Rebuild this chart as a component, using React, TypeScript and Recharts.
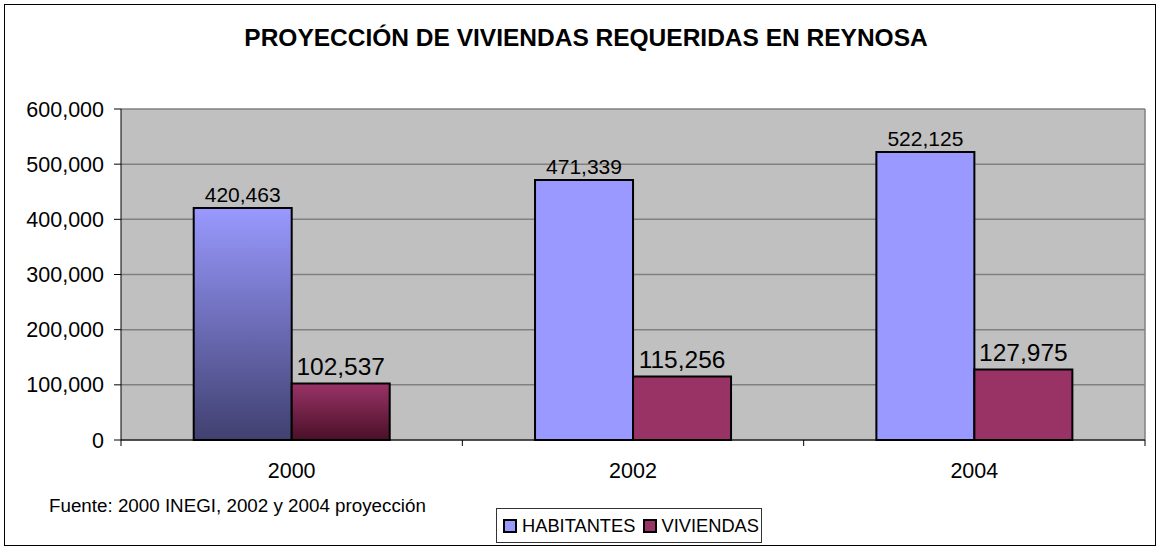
import React from 'react';
import { BarChart, Bar, XAxis, YAxis, CartesianGrid, Legend, LabelList, Cell } from 'recharts';

const years = ['2000', '2002', '2004'];
const habitantes = [420463, 471339, 522125];
const viviendas = [102537, 115256, 127975];
const yTicks = [0, 100000, 200000, 300000, 400000, 500000, 600000];

const data = years.map((year, i) => ({
  year,
  HABITANTES: habitantes[i],
  VIVIENDAS: viviendas[i],
}));

const FONT = '"Liberation Sans", Arial, sans-serif';
const fmt = (v: number) => Number(v).toLocaleString('en-US');

const W = 1150;
const H = 540;
// bottom margin is small because the legend's height gets added to it
const MARGIN = { top: 104, right: 10, left: 16, bottom: 30 };
const CAT_W = (W - MARGIN.left - 100 - MARGIN.right) / years.length;

const XTick = (props: any) => {
  const { x, y, payload, index } = props;
  const axisY = y - 23;
  return (
    <g>
      <line x1={x - CAT_W / 2} x2={x - CAT_W / 2} y1={axisY} y2={axisY + 6} stroke="#000" />
      {index === years.length - 1 && (
        <line x1={x + CAT_W / 2} x2={x + CAT_W / 2} y1={axisY} y2={axisY + 6} stroke="#000" />
      )}
      <text x={x} y={y} dy="0.71em" textAnchor="middle" fontSize={21.5} fontFamily={FONT} fill="#000">
        {payload.value}
      </text>
    </g>
  );
};

const LegendBox = () => (
  <div
    style={{
      display: 'flex',
      alignItems: 'center',
      border: '1px solid #333',
      background: '#fff',
      height: 33,
      padding: '0 2px 0 6px',
      fontFamily: FONT,
      fontSize: 18.3,
      color: '#000',
      whiteSpace: 'nowrap',
    }}
  >
    <span style={{ width: 10, height: 10, border: '2px solid #000', background: '#9999FF', marginRight: 5 }} />
    <span style={{ marginRight: 8 }}>HABITANTES</span>
    <span style={{ width: 10, height: 10, border: '2px solid #000', background: '#993366', marginRight: 4 }} />
    <span>VIVIENDAS</span>
  </div>
);

export default function App() {
  return (
    <div
      style={{
        position: 'absolute',
        left: 4,
        top: 4,
        width: W,
        height: H,
        border: '1px solid #000',
        background: '#fff',
        fontFamily: FONT,
      }}
    >
      <div
        style={{
          position: 'absolute',
          left: 0,
          top: 21,
          width: W,
          textAlign: 'center',
          fontSize: 24.5,
          lineHeight: 1,
          fontWeight: 'bold',
          color: '#000',
          paddingLeft: 12,
          boxSizing: 'border-box',
        }}
      >
        PROYECCIÓN DE VIVIENDAS REQUERIDAS EN REYNOSA
      </div>
      <div
        style={{
          position: 'absolute',
          left: 44,
          top: 492,
          fontSize: 18.8,
          lineHeight: 1,
          color: '#000',
          whiteSpace: 'nowrap',
        }}
      >
        Fuente: 2000 INEGI, 2002 y 2004 proyección
      </div>
      <BarChart
        width={W}
        height={H}
        data={data}
        margin={MARGIN}
        barCategoryGap="21.3%"
        barGap={0}
        style={{ position: 'absolute', left: 0, top: 0 }}
      >
        <defs>
          <linearGradient id="gradHab" x1="0" y1="0" x2="0" y2="1">
            <stop offset="0%" stopColor="#9999FF" />
            <stop offset="100%" stopColor="#404070" />
          </linearGradient>
          <linearGradient id="gradViv" x1="0" y1="0" x2="0" y2="1">
            <stop offset="0%" stopColor="#993366" />
            <stop offset="100%" stopColor="#4A1028" />
          </linearGradient>
        </defs>
        <CartesianGrid
          fill="#C0C0C0"
          stroke="#808080"
          strokeWidth={1.5}
          verticalCoordinatesGenerator={(p: any) => [p.offset.left + p.offset.width]}
        />
        <XAxis
          dataKey="year"
          axisLine={{ stroke: '#000' }}
          tickLine={false}
          tickSize={0}
          tickMargin={23}
          height={40}
          tick={<XTick />}
        />
        <YAxis
          domain={[0, 600000]}
          ticks={yTicks}
          interval={0}
          tickFormatter={fmt}
          width={100}
          axisLine={{ stroke: '#000' }}
          tickLine={{ stroke: '#000' }}
          tickSize={7}
          tickMargin={10}
          tick={{ fontSize: 21.5, fontFamily: FONT, fill: '#000' }}
        />
        <Legend
          content={<LegendBox />}
          wrapperStyle={{ position: 'absolute', left: 491, top: 503, width: 'auto', bottom: 'auto' }}
        />
        <Bar dataKey="HABITANTES" fill="#9999FF" stroke="#000" strokeWidth={2} isAnimationActive={false}>
          {data.map((d, i) => (
            <Cell key={d.year} fill={i === 0 ? 'url(#gradHab)' : '#9999FF'} />
          ))}
          <LabelList
            dataKey="HABITANTES"
            position="top"
            offset={6}
            formatter={fmt}
            style={{ fontSize: 21, fontFamily: FONT, fill: '#000' }}
          />
        </Bar>
        <Bar dataKey="VIVIENDAS" fill="#993366" stroke="#000" strokeWidth={2} isAnimationActive={false}>
          {data.map((d, i) => (
            <Cell key={d.year} fill={i === 0 ? 'url(#gradViv)' : '#993366'} />
          ))}
          <LabelList
            dataKey="VIVIENDAS"
            position="top"
            offset={8}
            formatter={fmt}
            style={{ fontSize: 24.5, fontFamily: FONT, fill: '#000' }}
          />
        </Bar>
      </BarChart>
    </div>
  );
}
